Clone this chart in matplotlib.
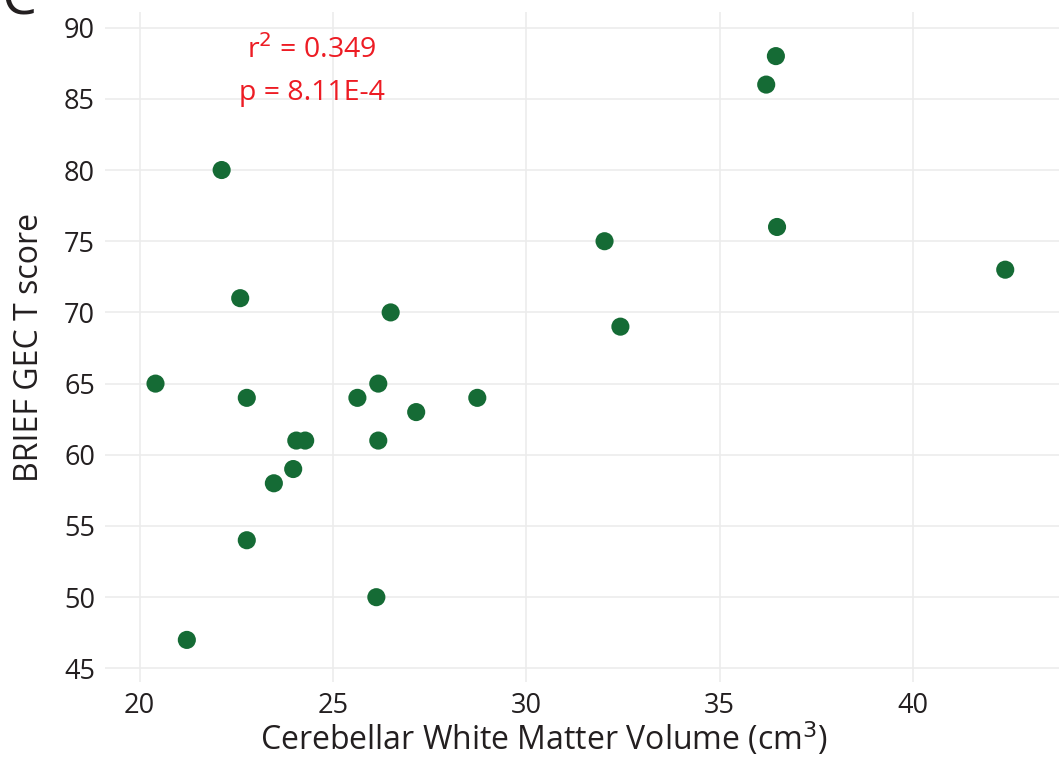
import numpy as np
import matplotlib
matplotlib.use("Agg")
import matplotlib.pyplot as plt

plt.rcParams['font.family'] = ['Open Sans', 'DejaVu Sans']

# Cerebellar white matter volume (cm^3) vs BRIEF GEC T score
volume = [22.60, 26.49, 20.41, 22.77, 25.63, 26.17, 27.15, 28.73, 24.05, 24.28,
          26.17, 23.97, 23.47, 22.77, 26.12, 21.22, 36.45, 36.20, 36.48, 32.02,
          42.38, 32.43, 22.12]
score = [71, 70, 65, 64, 64, 65, 63, 64, 61, 61,
         61, 59, 58, 54, 50, 47, 88, 86, 76, 75,
         73, 69, 80]

xticks = [20, 25, 30, 35, 40]
yticks = [45, 50, 55, 60, 65, 70, 75, 80, 85, 90]

text_col = "#231f20"
green = "#156b35"
red = "#ed1c24"

fig = plt.figure(figsize=(10.59, 7.57), dpi=100)
ax = fig.add_axes([0.099, 0.099, 0.901, 0.885])

ax.scatter(volume, score, s=170, color=green, edgecolors="none", zorder=3)

ax.set_xlim(19.1, 43.77)
ax.set_ylim(44.04, 91.09)
ax.set_xticks(xticks)
ax.set_yticks(yticks)
ax.grid(True, color="#ececec", linewidth=1.2)
ax.set_axisbelow(True)
for s in ax.spines.values():
    s.set_visible(False)
ax.tick_params(length=0, labelsize=19.5, colors=text_col, pad=7)

ax.set_xlabel("Cerebellar White Matter Volume (cm$^3$)", fontsize=23,
              color=text_col, va="center")
ax.xaxis.set_label_coords(0.46, -0.085)
ax.set_ylabel("BRIEF GEC T score", fontsize=23, color=text_col, va="center")
ax.yaxis.set_label_coords(-0.079, 0.5)

ax.text(24.45, 88.4, "r$^2$ = 0.349", color=red, fontsize=20.5,
        ha="center", va="center")
ax.text(24.45, 85.4, "p = 8.11E-4", color=red, fontsize=20.5,
        ha="center", va="center")

# panel letter, partly cut off at the top
fig.text(0.002, 1.0, "C", fontsize=40, color=text_col, ha="left", va="center")

fig.savefig("out.png", dpi=100)
